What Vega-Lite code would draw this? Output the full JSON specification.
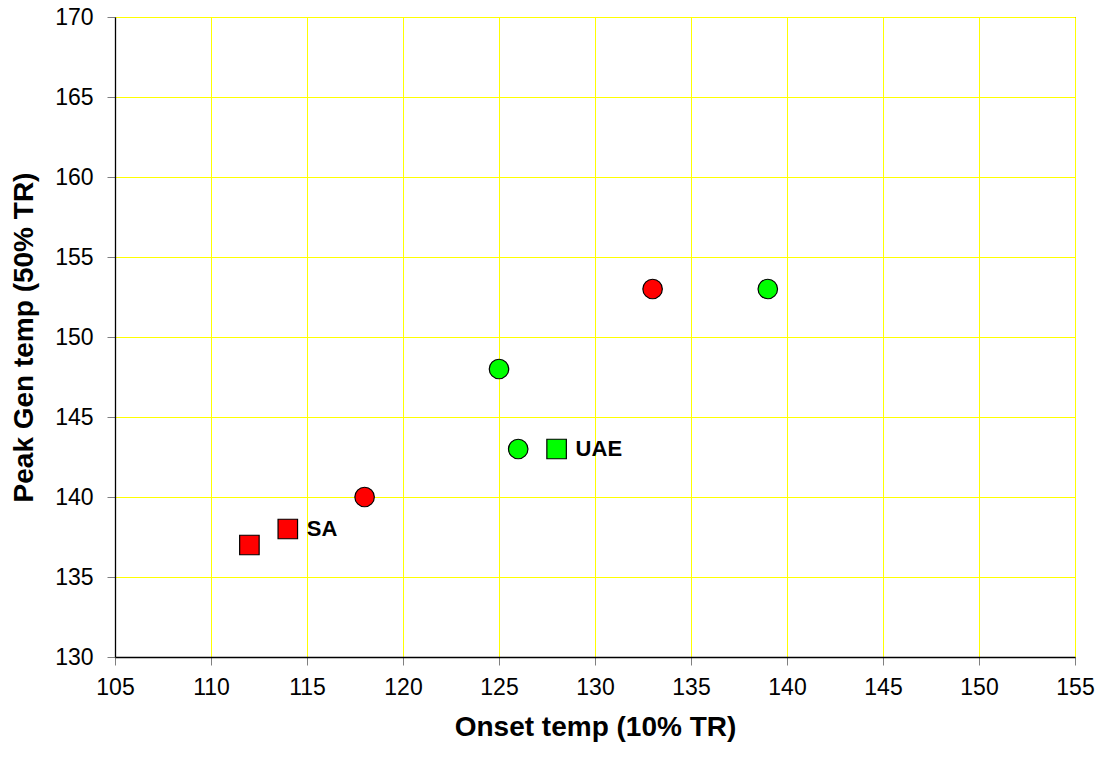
{
  "$schema": "https://vega.github.io/schema/vega-lite/v6.json",
  "width": 960,
  "height": 640,
  "autosize": {"type": "none"},
  "padding": {"left": 115, "top": 17, "right": 24, "bottom": 102},
  "background": "white",
  "config": {
    "font": "Liberation Sans",
    "view": {"stroke": "black", "strokeWidth": 1},
    "axis": {
      "gridColor": "#FFFF00",
      "gridWidth": 1,
      "gridOpacity": 1,
      "domainColor": "black",
      "domainWidth": 1.3,
      "tickColor": "#808080",
      "tickSize": 8,
      "labelFont": "Liberation Sans",
      "labelFontSize": 23,
      "labelColor": "black",
      "labelFlush": false,
      "titleFont": "Liberation Sans",
      "titleFontSize": 28,
      "titleFontWeight": "bold",
      "titleColor": "black"
    }
  },
  "data": {
    "values": [
      {"onset": 112, "peak": 137, "country": "SA", "kind": "square", "pt": "p1", "label": ""},
      {"onset": 114, "peak": 138, "country": "SA", "kind": "square", "pt": "p2", "label": "SA"},
      {"onset": 118, "peak": 140, "country": "SA", "kind": "circle", "pt": "p3", "label": ""},
      {"onset": 125, "peak": 148, "country": "UAE", "kind": "circle", "pt": "p4", "label": ""},
      {"onset": 126, "peak": 143, "country": "UAE", "kind": "circle", "pt": "p5", "label": ""},
      {"onset": 128, "peak": 143, "country": "UAE", "kind": "square", "pt": "p6", "label": "UAE"},
      {"onset": 133, "peak": 153, "country": "SA", "kind": "circle", "pt": "p7", "label": ""},
      {"onset": 139, "peak": 153, "country": "UAE", "kind": "circle", "pt": "p8", "label": ""}
    ]
  },
  "encoding": {
    "x": {
      "field": "onset", "type": "quantitative",
      "scale": {"domain": [105, 155], "nice": false, "zero": false},
      "axis": {"values": [105,110,115,120,125,130,135,140,145,150,155], "title": "Onset temp (10% TR)", "labelPadding": 11, "titlePadding": 14, "grid": true, "gridColor": "#FFFF00", "gridOpacity": 1, "gridWidth": 1}
    },
    "y": {
      "field": "peak", "type": "quantitative",
      "scale": {"domain": [130, 170], "nice": false, "zero": false},
      "axis": {"values": [130,135,140,145,150,155,160,165,170], "title": "Peak Gen temp (50% TR)", "labelPadding": 14, "titlePadding": 16, "grid": true, "gridColor": "#FFFF00", "gridOpacity": 1, "gridWidth": 1}
    }
  },
  "layer": [
    {
      "mark": {"type": "point", "filled": true, "stroke": "black", "strokeWidth": 1.2, "opacity": 1},
      "encoding": {
        "fill": {"field": "country", "type": "nominal", "scale": {"domain": ["SA", "UAE"], "range": ["#FF0000", "#00FF00"]}, "legend": null},
        "shape": {"field": "kind", "type": "nominal", "scale": {"domain": ["circle", "square"], "range": ["circle", "square"]}, "legend": null},
        "size": {"field": "pt", "type": "nominal", "scale": {"domain": ["p1","p2","p3","p4","p5","p6","p7","p8"], "range": [380, 380, 420, 300, 220, 380, 340, 420]}, "legend": null}
      }
    },
    {
      "mark": {"type": "text", "align": "left", "baseline": "middle", "dx": 19, "fontSize": 22, "fontWeight": "bold", "font": "Liberation Sans", "color": "black"},
      "encoding": {"text": {"field": "label"}}
    }
  ]
}
